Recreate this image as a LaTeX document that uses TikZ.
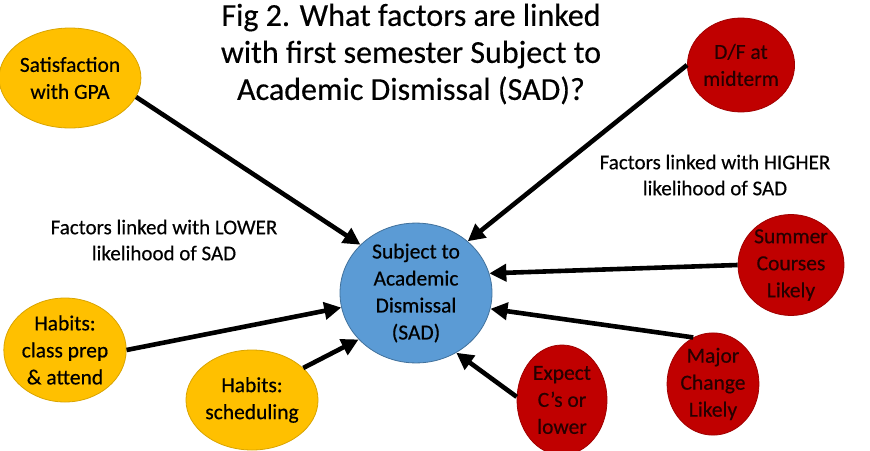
\documentclass[tikz,border=0pt]{standalone}
\usepackage{fontspec}
\setmainfont{Carlito}[FakeBold=0.4]
\usetikzlibrary{shapes.geometric,arrows.meta}
\definecolor{lowfill}{HTML}{FFC000}
\definecolor{lowline}{HTML}{D9A400}
\definecolor{highfill}{HTML}{C00000}
\definecolor{highline}{HTML}{A00000}
\definecolor{hightext}{HTML}{260000}
\definecolor{sadfill}{HTML}{5B9BD5}
\definecolor{sadline}{HTML}{41719C}

\begin{document}
\begin{tikzpicture}[x=1pt,y=-1pt,
  circ/.style={ellipse,inner sep=0pt,align=center,line width=0.8pt,
    font=\fontsize{21.5}{27}\selectfont},
  low/.style={circ,fill=lowfill,draw=lowline,text=black},
  high/.style={circ,fill=highfill,draw=highline,text=hightext},
  link/.style={line width=4.6pt,-{Triangle[length=17pt,width=17pt]}},
  note/.style={align=center,font=\fontsize{21}{26}\selectfont}]
  \useasboundingbox (0,0) rectangle (870,450);
  % title
  \node[align=center,font=\fontsize{32}{37}\selectfont] (title) at (411,54)
    {Fig 2. What factors are linked\\with first semester Subject to\\Academic Dismissal (SAD)?};
  % centre
  \node[circ,fill=sadfill,draw=sadline,minimum width=152pt,minimum height=128pt]
    (sad) at (416,293) {Subject to\\Academic\\Dismissal\\(SAD)};
  % lower likelihood
  \node[low,minimum width=116pt,minimum height=100pt] (gpa) at (70,78)
    {Satisfaction\\with GPA};
  \node[low,minimum width=106pt,minimum height=104pt] (prep) at (65,350)
    {Habits:\\class prep\\\& attend};
  \node[low,minimum width=106pt,minimum height=100pt] (sched) at (252,400)
    {Habits:\\scheduling};
  % higher likelihood
  \node[high,minimum width=92pt,minimum height=94pt] (df) at (741,65)
    {D/F at\\midterm};
  \node[high,minimum width=106pt,minimum height=96pt] (summer) at (791,265)
    {Summer\\Courses\\Likely};
  \node[high,minimum width=90pt,minimum height=98pt] (major) at (713,384)
    {Major\\Change\\Likely};
  \node[high,minimum width=90pt,minimum height=110pt] (expect) at (562,400)
    {Expect\\C’s or\\lower};
  % notes
  \node[note] (lownote) at (164,240) {Factors linked with LOWER\\likelihood of SAD};
  \node[note] (highnote) at (715,175) {Factors linked with HIGHER\\likelihood of SAD};
  % arrows into SAD
  \foreach \from/\to in {gpa.-16/sad.139.6, df.180/sad.45.6, summer.180/sad.15.4,
      major.113.4/sad.-12.6, expect.176/sad.-56.8, prep.0/sad.191,
      sched.32/sad.219.7}
    \draw[link] (\from) -- (\to);
\end{tikzpicture}
\end{document}
